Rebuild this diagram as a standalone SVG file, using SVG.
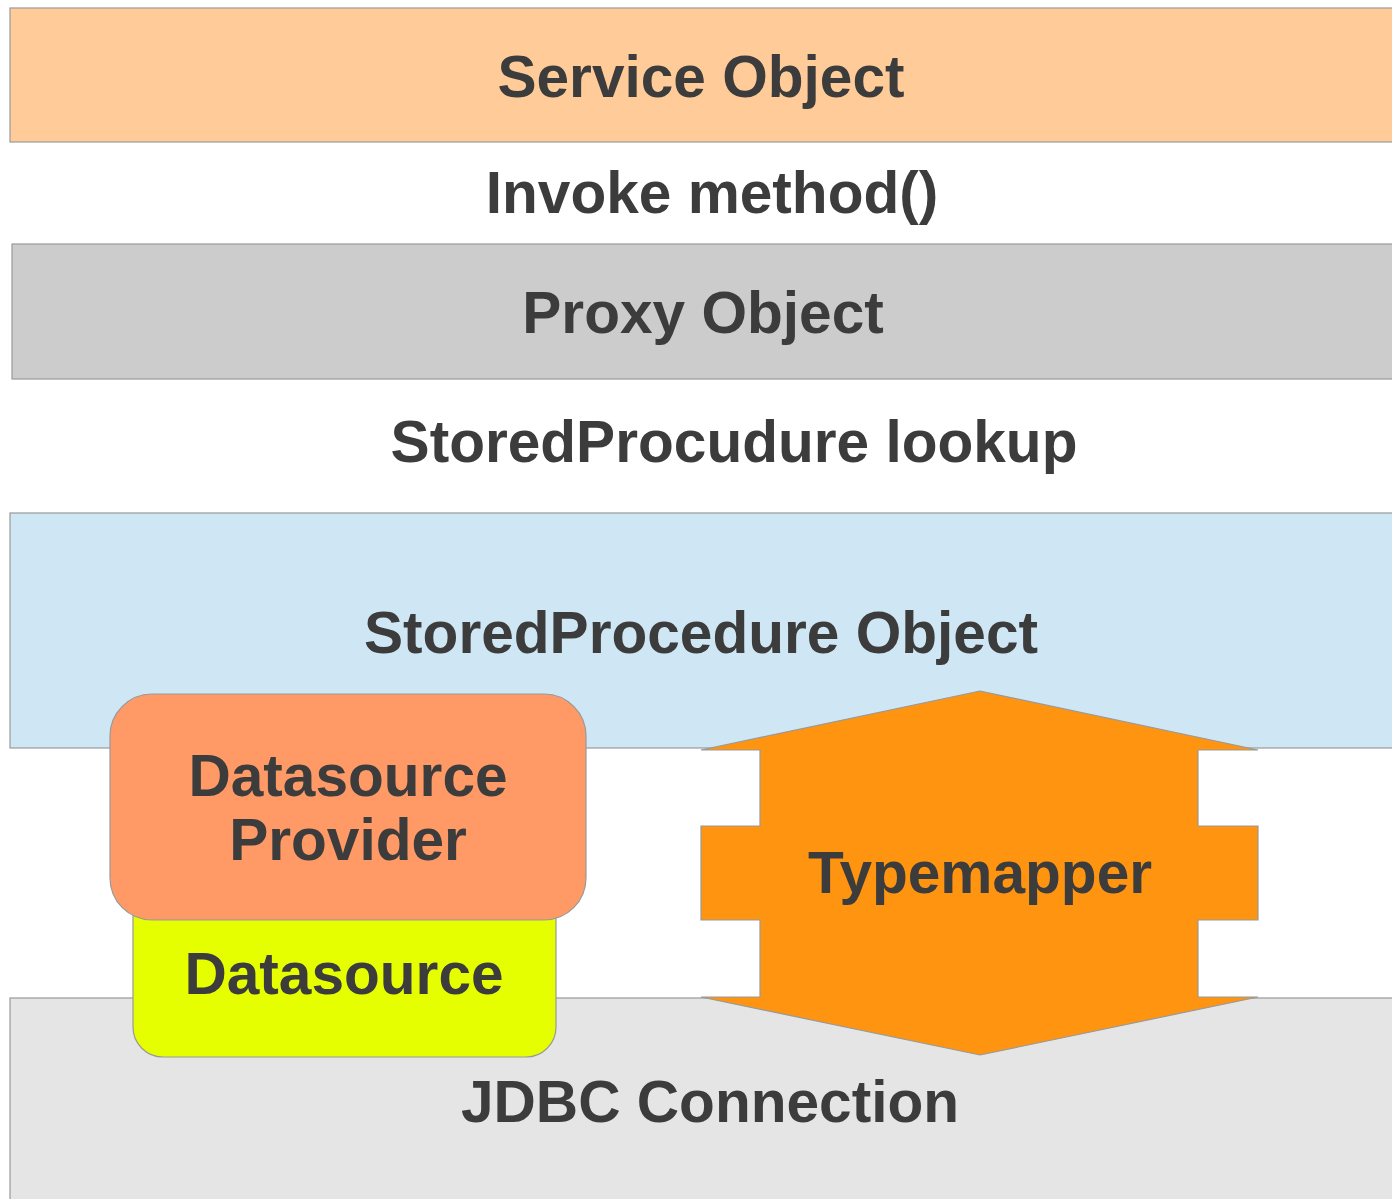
<svg xmlns="http://www.w3.org/2000/svg" width="1392" height="1199" viewBox="0 0 1392 1199">
  <style>
    .layer { stroke: #999999; stroke-width: 1.2; }
    .label { font-family: "Liberation Sans", Arial, sans-serif; font-weight: bold; font-size: 58.6px; fill: #3c3c3c; text-anchor: middle; }
  </style>
  <rect width="1392" height="1199" fill="#ffffff"/>

  <!-- horizontal layers -->
  <g id="service-object">
    <rect class="layer" x="10" y="8" width="1400" height="134" fill="#ffcc99"/>
    <text class="label" x="701" y="97">Service Object</text>
  </g>
  <g id="invoke-method">
    <text class="label" x="712" y="213">Invoke method()</text>
  </g>
  <g id="proxy-object">
    <rect class="layer" x="12" y="244" width="1400" height="135" fill="#cccccc"/>
    <text class="label" x="703" y="333">Proxy Object</text>
  </g>
  <g id="sp-lookup">
    <text class="label" x="734" y="462">StoredProcudure lookup</text>
  </g>
  <g id="storedprocedure-object">
    <rect class="layer" x="10" y="513" width="1400" height="235" fill="#cfe6f4"/>
    <text class="label" x="701" y="653">StoredProcedure Object</text>
  </g>
  <g id="jdbc-connection">
    <rect class="layer" x="10" y="998" width="1400" height="220" fill="#e5e5e5"/>
    <text class="label" x="710" y="1122">JDBC Connection</text>
  </g>

  <!-- datasource stack -->
  <g id="datasource">
    <rect class="layer" x="133" y="860" width="423" height="197" rx="30" ry="30" fill="#e6ff00"/>
    <text class="label" x="344" y="994">Datasource</text>
  </g>
  <g id="datasource-provider">
    <rect class="layer" x="110" y="694" width="476" height="226" rx="42" ry="42" fill="#ff9966"/>
    <text class="label" x="348" y="796">Datasource</text>
    <text class="label" x="348" y="860">Provider</text>
  </g>

  <!-- double-headed mapping arrow -->
  <g id="typemapper">
    <polygon class="layer" fill="#ff9411"
      points="980,691 1258,750 1198,750 1198,826 1258,826 1258,920 1198,920 1198,997 1258,997 980,1055 701,997 760,997 760,920 701,920 701,826 760,826 760,750 701,750"/>
    <text class="label" x="980" y="893">Typemapper</text>
  </g>

  <g id="connectors"/>
</svg>
